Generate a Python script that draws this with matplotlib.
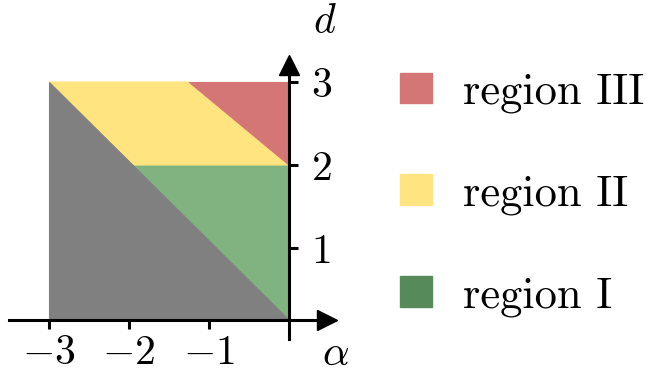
import matplotlib
matplotlib.use("Agg")
import matplotlib.pyplot as plt
from matplotlib.patches import Patch

plt.rcParams["mathtext.fontset"] = "cm"
plt.rcParams["font.family"] = "serif"
plt.rcParams["font.serif"] = ["cmr10", "DejaVu Serif"]
plt.rcParams["axes.formatter.use_mathtext"] = True

# corner values
d_low = 0.13
alpha_top = -1.25
alpha_mid = -1.955

gray_a = [-3, -3, 0]
gray_d = [3, d_low, d_low]
green_a = [alpha_mid, 0, 0]
green_d = [2, 2, d_low]
yellow_a = [-3, alpha_top, 0, alpha_mid]
yellow_d = [3, 3, 2, 2]
red_a = [alpha_top, 0, 0]
red_d = [3, 3, 2]

xticks = [-3, -2, -1]
yticks = [1, 2, 3]
labels = ["region III", "region II", "region I"]

GRAY = "#808080"
GREEN = "#80b380"
GREEN_LEG = "#578a5a"
YELLOW = "#ffe47f"
RED = "#d47676"


def main():
    fig = plt.figure(figsize=(6.55, 3.8), dpi=100)
    ax = fig.add_axes([0.01374, 0.1071, 0.5008, 0.7645])
    ax.set_xlim(-3.5, 0.6)
    ax.set_ylim(-0.1, 3.4)

    # edges in the fill colour hide the white seams between the shapes
    ax.fill(green_a, green_d, fc=GREEN, ec=GREEN, lw=0.8)
    ax.fill(yellow_a, yellow_d, fc=YELLOW, ec=YELLOW, lw=0.8)
    ax.fill(red_a, red_d, fc=RED, ec=RED, lw=0.8)
    ax.fill(gray_a, gray_d, fc=GRAY, ec=GRAY, lw=0.8)

    lw = 2.2
    ax.spines["top"].set_visible(False)
    ax.spines["left"].set_visible(False)
    ax.spines["right"].set_position(("data", 0))
    ax.spines["bottom"].set_position(("data", d_low))
    ax.spines["right"].set_linewidth(lw)
    ax.spines["bottom"].set_linewidth(lw)
    ax.spines["right"].set_zorder(3)
    ax.spines["bottom"].set_zorder(3)
    ax.spines["bottom"].set_bounds(-3.5, 0.45)
    ax.spines["right"].set_bounds(-0.1, 3.2)
    ax.yaxis.tick_right()
    ax.plot([0.475], [d_low], marker=">", color="k", ms=15, clip_on=False)
    ax.plot([0], [3.2], marker="^", color="k", ms=15, clip_on=False)

    ax.set_xticks(xticks)
    ax.set_xticklabels([r"$-%d$" % -t for t in xticks])
    ax.set_yticks(yticks)
    ax.set_yticklabels([r"$%d$" % t for t in yticks])
    ax.tick_params(axis="both", direction="out", length=6.5, width=lw,
                   labelsize=30)
    ax.tick_params(axis="x", pad=4)
    ax.tick_params(axis="y", pad=9)

    ax.text(0.45, 3.72, r"$d$", fontsize=30, ha="center", va="center")
    ax.text(0.575, -0.28, r"$\alpha$", fontsize=30, ha="center", va="center")

    handles = [Patch(color=RED), Patch(color=YELLOW), Patch(color=GREEN_LEG)]
    fig.legend(handles, labels, loc="center left",
               bbox_to_anchor=(0.577, 0.488), frameon=False, fontsize=32,
               handlelength=0.72, handleheight=0.68, handletextpad=0.7,
               labelspacing=1.38, borderpad=0)

    fig.savefig("out.png", dpi=100)


if __name__ == "__main__":
    main()
